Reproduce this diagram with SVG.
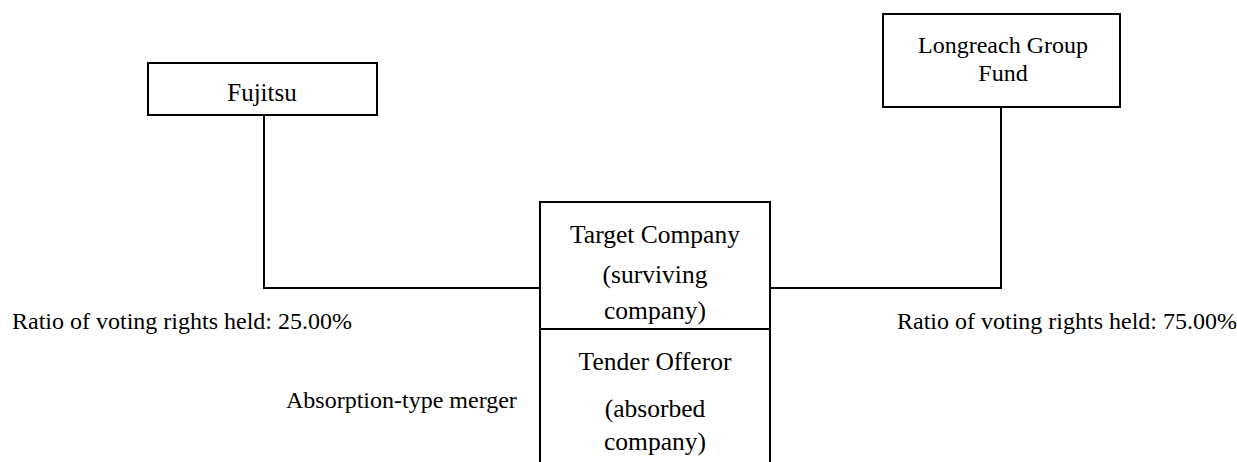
<svg xmlns="http://www.w3.org/2000/svg" width="1237" height="462" viewBox="0 0 1237 462">
<style>
.box{fill:#fff;stroke:#000;stroke-width:2}
.ln{fill:none;stroke:#000;stroke-width:2}
text{font-family:"Liberation Serif","Times New Roman",serif;fill:#000}
.t{font-size:25px;text-anchor:middle}
.c{font-size:25.5px;text-anchor:middle}
.l{font-size:24px}
</style>
<rect width="1237" height="462" fill="#fff"/>
<g id="connectors">
<polyline class="ln" points="264,115 264,288 540,288"/>
<polyline class="ln" points="1001,107 1001,288 770,288"/>
</g>
<g id="fujitsu">
<rect class="box" x="148" y="63" width="229" height="52"/>
<text class="t" x="262" y="101">Fujitsu</text>
</g>
<g id="longreach">
<rect class="box" x="883" y="14" width="237" height="93"/>
<text class="l" x="1003" y="53" text-anchor="middle">Longreach Group</text>
<text class="l" x="1003" y="81" text-anchor="middle">Fund</text>
</g>
<g id="target">
<rect class="box" x="540" y="202" width="230" height="127"/>
<text class="c" x="655" y="243">Target Company</text>
<text class="c" x="655" y="283">(surviving</text>
<text class="c" x="655" y="319">company)</text>
</g>
<g id="offeror">
<path class="ln" d="M540,470 V329 H770 V470"/>
<text class="c" x="655" y="370">Tender Offeror</text>
<text class="c" x="655" y="417">(absorbed</text>
<text class="c" x="655" y="450">company)</text>
</g>
<g id="labels">
<text class="l" x="12" y="329">Ratio of voting rights held: 25.00%</text>
<text class="l" x="897" y="329">Ratio of voting rights held: 75.00%</text>
<text class="l" x="286" y="408">Absorption-type merger</text>
</g>
</svg>
